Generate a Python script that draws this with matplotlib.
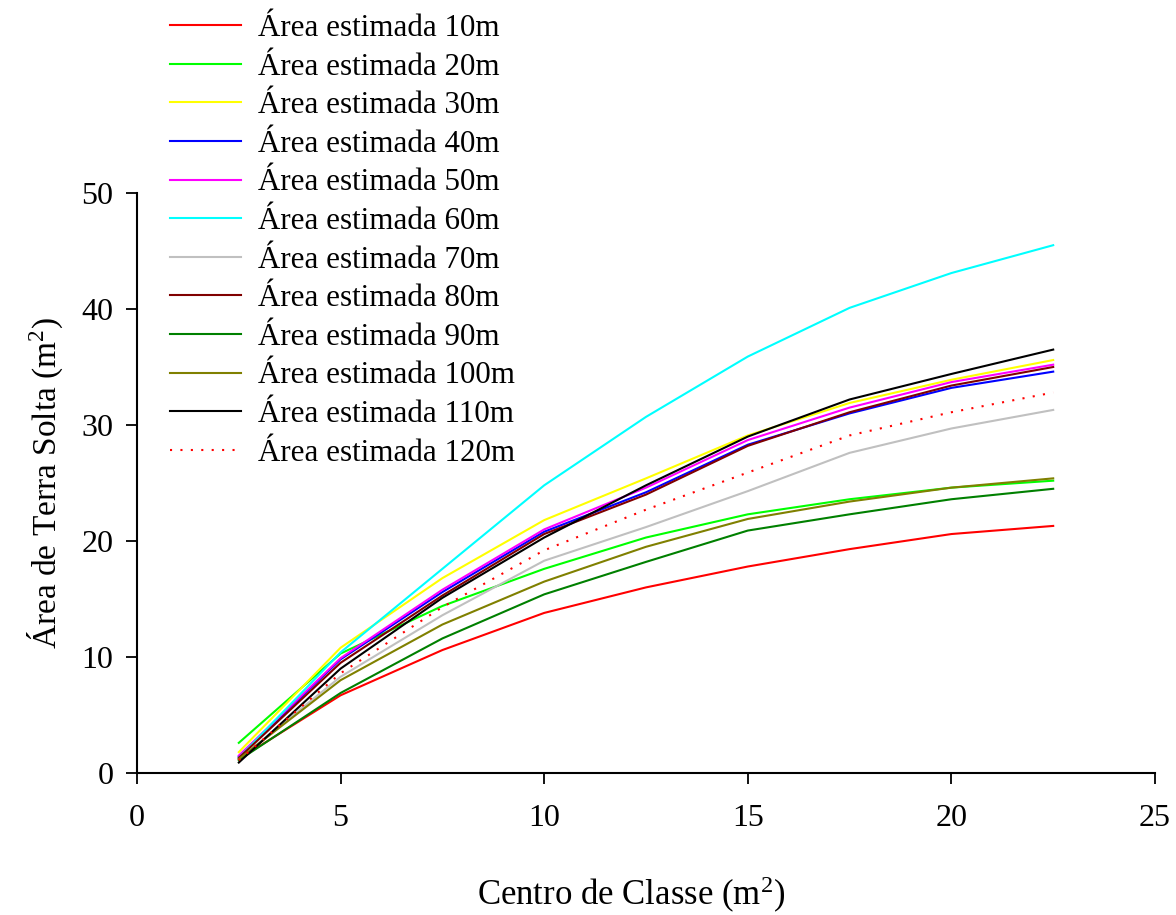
import matplotlib
matplotlib.use("Agg")
import matplotlib.pyplot as plt

plt.rcParams['font.family'] = ['Liberation Serif', 'DejaVu Serif']
plt.rcParams['mathtext.fontset'] = 'custom'
plt.rcParams['mathtext.rm'] = 'Liberation Serif'
plt.rcParams['mathtext.it'] = 'Liberation Serif'

# class centres (m2)
centro = [2.5, 5, 7.5, 10, 12.5, 15, 17.5, 20, 22.5]

# estimated area per distance
a10 = [1.2, 6.7, 10.6, 13.8, 16.0, 17.8, 19.3, 20.6, 21.3]
a20 = [2.6, 10.3, 14.4, 17.6, 20.3, 22.3, 23.6, 24.6, 25.2]
a30 = [1.8, 10.8, 16.8, 21.8, 25.4, 29.1, 31.9, 33.9, 35.6]
a40 = [1.4, 9.8, 15.6, 20.8, 24.2, 28.3, 31.0, 33.2, 34.6]
a50 = [1.5, 9.9, 15.8, 21.0, 24.6, 28.7, 31.5, 33.7, 35.2]
a60 = [1.3, 10.4, 17.6, 24.8, 30.7, 35.9, 40.1, 43.1, 45.5]
a70 = [1.2, 8.3, 13.6, 18.3, 21.2, 24.3, 27.6, 29.7, 31.3]
a80 = [1.3, 9.5, 15.3, 20.6, 24.0, 28.2, 31.1, 33.4, 35.0]
a90 = [1.1, 6.9, 11.6, 15.4, 18.2, 20.9, 22.3, 23.6, 24.5]
a100 = [1.2, 8.0, 12.8, 16.5, 19.5, 21.9, 23.4, 24.6, 25.4]
a110 = [0.9, 9.0, 15.1, 20.3, 24.8, 29.0, 32.2, 34.4, 36.5]
a120 = [1.1, 8.6, 14.3, 19.2, 22.7, 25.9, 29.1, 31.1, 32.8]

series = [a10, a20, a30, a40, a50, a60, a70, a80, a90, a100, a110, a120]
labels = ["Área estimada %dm" % d for d in range(10, 130, 10)]
colors = ['#ff0000', '#00ff00', '#ffff00', '#0000ff', '#ff00ff', '#00ffff',
          '#c0c0c0', '#800000', '#008000', '#808000', '#000000', '#ff0000']

fig = plt.figure(figsize=(11.76, 9.15), dpi=100)
ax = fig.add_axes([137/1176, 1 - 773/915, (1155-137)/1176, (773-193)/915])

for i in range(len(series)):
    if i == 11:
        ax.plot(centro, series[i], color=colors[i], lw=1.5, ls=(0, (1, 4)), label=labels[i])
    else:
        ax.plot(centro, series[i], color=colors[i], lw=1.5, label=labels[i])

ax.set_xlim(0, 25)
ax.set_ylim(0, 50)
ax.set_xticks([0, 5, 10, 15, 20, 25])
ax.set_yticks([0, 10, 20, 30, 40, 50])
ax.spines['top'].set_visible(False)
ax.spines['right'].set_visible(False)
ax.spines['left'].set_linewidth(1.5)
ax.spines['bottom'].set_linewidth(1.5)
ax.tick_params(axis='x', direction='out', length=8, width=1.3, labelsize=23, pad=14)
ax.tick_params(axis='y', direction='out', length=8, width=1.3, labelsize=23, pad=9)

ax.set_xlabel("Centro de Classe (m$^2$)", fontsize=25)
ax.xaxis.set_label_coords(0.485, -0.175)
ax.set_ylabel("Área de Terra Solta (m$^2$)", fontsize=24, labelpad=12)

fig.legend(loc='upper left', bbox_to_anchor=(170/1176, 1 - 14/915), frameon=False,
           fontsize=22.3, handlelength=2.29, handletextpad=0.55, labelspacing=0.31,
           borderpad=0, borderaxespad=0)

fig.savefig("out.png", dpi=100)
